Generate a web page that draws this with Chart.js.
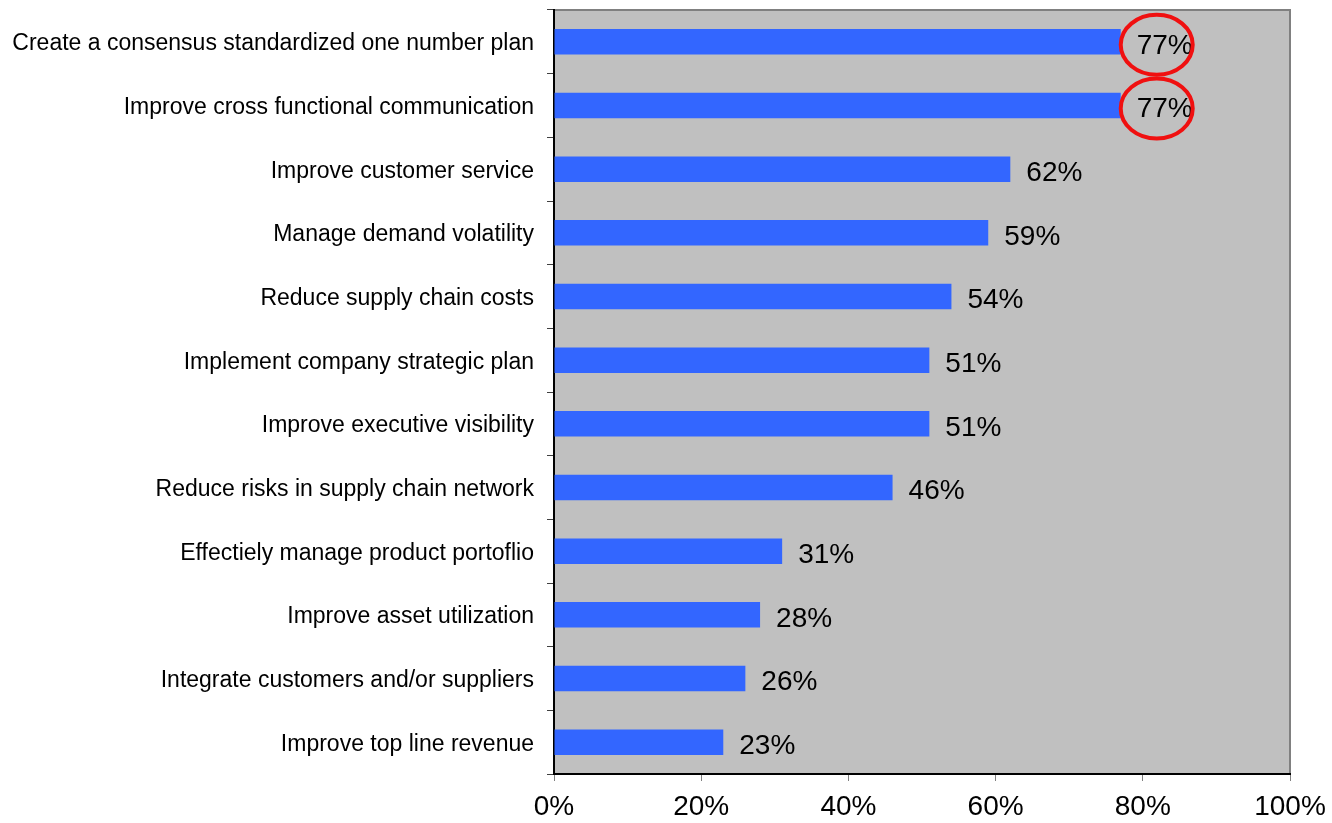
<!DOCTYPE html>
<html>
<head>
<meta charset="utf-8">
<script src="https://cdn.jsdelivr.net/npm/chart.js@4.4.0/dist/chart.umd.min.js"></script>
<style>
  html, body { margin: 0; padding: 0; background: #fff; }
  #wrap { width: 1332px; height: 823px; }
</style>
</head>
<body>
<div id="wrap"><canvas id="chart"></canvas></div>
<script>
// data
const categories = [
  'Create a consensus standardized one number plan',
  'Improve cross functional communication',
  'Improve customer service',
  'Manage demand volatility',
  'Reduce supply chain costs',
  'Implement company strategic plan',
  'Improve executive visibility',
  'Reduce risks in supply chain network',
  'Effectiely manage product portoflio',
  'Improve asset utilization',
  'Integrate customers and/or suppliers',
  'Improve top line revenue'
];
const values = [77, 77, 62, 59, 54, 51, 51, 46, 31, 28, 26, 23];
const circled = [0, 1];
const xTicks = [0, 20, 40, 60, 80, 100];

// grey plot background + grey top/right frame
const plotBg = {
  id: 'plotBg',
  beforeDraw(chart) {
    const { ctx, chartArea: a } = chart;
    ctx.save();
    ctx.fillStyle = '#C0C0C0';
    ctx.fillRect(a.left, a.top, a.right - a.left, a.bottom - a.top);
    ctx.strokeStyle = '#808080';
    ctx.lineWidth = 2;
    ctx.beginPath();
    ctx.moveTo(a.left, a.top);
    ctx.lineTo(a.right, a.top);
    ctx.lineTo(a.right, a.bottom);
    ctx.stroke();
    ctx.restore();
  }
};

// value labels and the red rings
const barLabels = {
  id: 'barLabels',
  afterDatasetsDraw(chart) {
    const { ctx } = chart;
    const meta = chart.getDatasetMeta(0);
    ctx.save();
    ctx.font = '28px "Liberation Sans", Arial, sans-serif';
    ctx.fillStyle = '#000';
    ctx.textBaseline = 'middle';
    ctx.textAlign = 'left';
    meta.data.forEach((bar, i) => {
      ctx.fillText(values[i] + '%', bar.x + 16, bar.y + 4);
    });
    ctx.strokeStyle = '#F01010';
    ctx.lineWidth = 4;
    circled.forEach(i => {
      const bar = meta.data[i];
      ctx.beginPath();
      ctx.ellipse(bar.x + 36, bar.y + 3, 36, 30, 0, 0, Math.PI * 2);
      ctx.stroke();
    });
    ctx.restore();
  }
};

new Chart(document.getElementById('chart'), {
  type: 'bar',
  data: {
    labels: categories,
    datasets: [{
      data: values,
      backgroundColor: '#3366FF',
      barPercentage: 0.4,
      categoryPercentage: 1.0
    }]
  },
  options: {
    indexAxis: 'y',
    responsive: true,
    maintainAspectRatio: false,
    animation: false,
    layout: { padding: { top: 10, right: 42, left: 0, bottom: 0 } },
    plugins: { legend: { display: false }, tooltip: { enabled: false } },
    scales: {
      x: {
        min: 0,
        max: 100,
        afterBuildTicks(scale) { scale.ticks = xTicks.map(v => ({ value: v })); },
        afterFit(scale) {
          scale.height = 49;
          scale.paddingLeft = 0;
          scale.paddingRight = 0;
        },
        grid: { drawOnChartArea: false, drawTicks: true, tickLength: 7, color: '#808080' },
        border: { color: '#000', width: 2 },
        ticks: {
          color: '#000',
          padding: 9,
          maxRotation: 0,
          font: { family: '"Liberation Sans", Arial, sans-serif', size: 28 },
          callback: v => v + '%'
        }
      },
      y: {
        afterFit(scale) {
          scale.width = 554;
          scale.paddingTop = 0;
          scale.paddingBottom = 0;
        },
        grid: { offset: true, drawOnChartArea: false, drawTicks: true, tickLength: 7, color: '#404040' },
        border: { color: '#000', width: 2 },
        ticks: {
          color: '#000',
          padding: 13,
          labelOffset: 2,
          autoSkip: false,
          font: { family: '"Liberation Sans", Arial, sans-serif', size: 23 }
        }
      }
    }
  },
  plugins: [plotBg, barLabels]
});
</script>
</body>
</html>
